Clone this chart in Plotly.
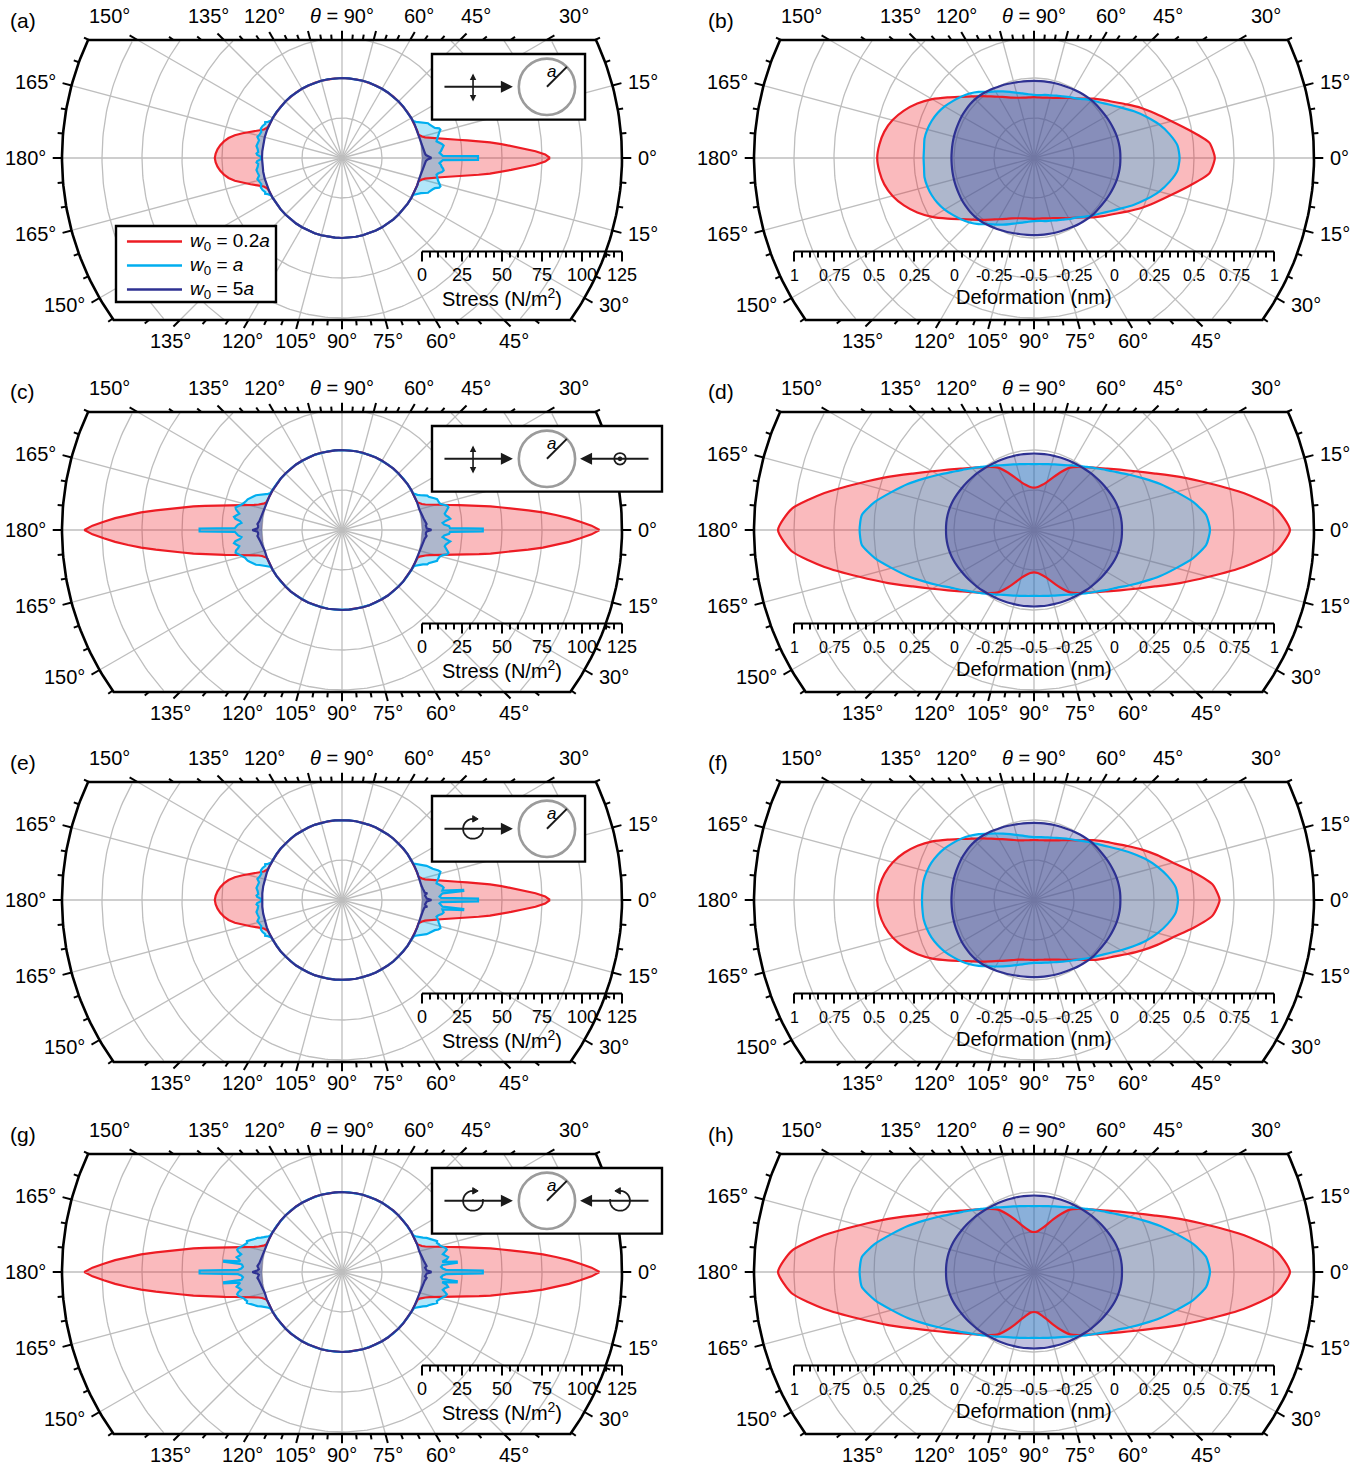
import numpy as np
import plotly.graph_objects as go

# ---------------------------------------------------------------- geometry
W, H = 1365, 1468
PX = 1.6                      # pixels per radial unit
R0 = 50.0                     # particle surface (stress 0 / deformation 0 nm)
R_FRAME = 175.0               # outer frame radius
BAND_TOP = 118 / PX           # flat top edge of the frame
BAND_BOT = -162 / PX          # flat bottom edge of the frame

COL_CX = [342, 1034]
COL_EXT = [(0, 683), (683, 1365)]
ROW_CY = [158, 530, 900, 1272]
ROW_EXT = [(0, 366), (366, 737), (737, 1108), (1108, 1468)]

RED, CYAN, NAVY = '#ED1C24', '#00AEEF', '#2E3192'
FILLS = {RED: 'rgba(237,28,36,0.30)', CYAN: 'rgba(0,174,239,0.30)', NAVY: 'rgba(46,49,146,0.30)'}
GRID = '#BEBEBE'
FONT = 'Liberation Sans, Arial, Helvetica, sans-serif'

# ---------------------------------------------------------------- stress data (N/m^2) vs polar angle (deg)
A_RED_T = list(range(0, 18)) + list(range(20, 155, 5)) + list(range(156, 181, 2))
A_RED_S = ([80, 77, 71, 63, 56, 50, 43, 36, 29, 23, 17.5, 13, 9, 6, 3.5, 1.8, 0.7, 0]
           + [0] * 27
           + [0, 0.5, 2, 5.5, 9.5, 14, 18.5, 22, 24.5, 26.5, 28, 29, 29.5])

A_CYAN_T = [0, 0.8, 1.2] + list(range(2, 29)) + list(range(30, 151, 5)) + \
    [152, 154, 155, 156, 158, 160, 162, 164, 166, 168, 170, 172, 174, 176, 177, 178, 179, 180]
A_CYAN_S = ([35, 35, 13]
            + [12, 11, 12, 12.5, 13.5, 14, 13, 11, 10, 10.5, 11, 11.5, 12, 13, 14, 13.5, 11, 10, 9,
               8.5, 8, 6, 4, 3, 1.5, 0.5, 0]
            + [0] * 25
            + [0, 1.5, 3, 2.5, 3.5, 4, 3, 3.5, 4.5, 3, 3.5, 4, 3, 2.5, 3.5, 3, 1, 0.5])

A_NAVY_T = [0, 0.5, 1, 2, 3, 4, 5, 6, 8, 10, 12, 15] + list(range(20, 181, 5))
A_NAVY_S = [6, 5, 3.5, 2.5, 2, 1.8, 1.5, 1.2, 0.8, 0.5, 0.3, 0] + [0] * 33

C_RED_T = list(range(0, 22)) + list(range(25, 160, 5)) + list(range(159, 181))
C_RED_S = ([111, 106, 99, 92, 84, 76, 67, 59, 51, 44, 37, 31, 25, 19.5, 14.5, 10.5, 7, 4.5, 2.5,
            1.2, 0.4, 0]
           + [0] * 27
           + [0, 0.4, 1.2, 2.5, 4.5, 7, 10.5, 14.5, 19.5, 25, 31, 37, 44, 51, 59, 67, 76, 84, 92,
              99, 106, 111])

C_CYAN_T = [0, 0.6, 1.0] + list(range(2, 29)) + list(range(30, 151, 5)) + \
    list(range(152, 179)) + [179, 179.4, 180]
C_CYAN_S = ([38, 38, 17.5]
            + [17, 14, 13, 15, 18, 17, 15.5, 15, 16, 17, 18, 17.5, 15, 13.5, 13, 12.5, 12.5, 11, 9.5,
               8, 7.5, 5, 3.5, 2, 1, 0.3, 0]
            + [0] * 25
            + [0, 0.5, 1.5, 3, 4.5, 6, 8, 9, 10, 11, 12, 12.5, 13, 14, 15, 16.5, 18, 17.5, 16, 15,
               16.5, 18, 17, 14, 13, 15, 16]
            + [17, 39, 39])

C_NAVY_T = [0, 0.5, 1, 2, 3, 4, 5, 6, 8, 10, 12, 15] + list(range(20, 161, 5)) + \
    [165, 168, 170, 172, 174, 175, 176, 177, 178, 179, 179.5, 180]
C_NAVY_S = ([6, 5, 3, 2.5, 2.5, 3, 2.5, 2, 1.5, 1, 0.5, 0]
            + [0] * 29
            + [0, 0.5, 1, 1.5, 2, 2.5, 3, 2.5, 2.5, 3, 5, 6])

E_RED_T = A_RED_T
E_RED_S = A_RED_S

E_CYAN_T = [0, 0.6, 1.2, 2, 3, 3.8, 4.2, 4.8, 5.3] + list(range(6, 29)) + list(range(30, 151, 5)) + \
    [152, 154, 155, 156, 158, 160, 162, 164, 166, 168, 170, 172, 174, 176, 177, 178, 179, 180]
E_CYAN_S = ([35, 35, 12, 11, 12, 13, 26, 26, 13]
            + [13.5, 14, 13, 11, 10, 10.5, 11.5, 12, 12.5, 13.5, 14, 13, 11, 10, 9, 8, 7, 5.5, 4, 2.5,
               1, 0.3, 0]
            + [0] * 25
            + [0, 1.5, 3, 2.5, 3.5, 4, 3, 3.5, 4.5, 3, 3.5, 4, 3, 2.5, 3.5, 3, 1, 0.5])

E_NAVY_T = [0, 0.5, 1, 2, 3, 4, 4.5, 5, 6, 8, 10, 12, 15] + list(range(20, 181, 5))
E_NAVY_S = [6, 4.5, 3, 2.5, 2, 2.5, 3.5, 2, 1.5, 1, 0.5, 0.3, 0] + [0] * 33

G_RED_T = C_RED_T
G_RED_S = C_RED_S

G_CYAN_T = [0, 0.6, 1.2, 2, 3, 4, 4.6, 5.2, 5.8] + list(range(7, 29)) + list(range(30, 151, 5)) + \
    list(range(152, 174)) + [174, 174.5, 175.1, 175.6, 176, 177, 178, 178.8, 179.4, 180]
G_CYAN_S = ([38, 38, 15, 13, 12, 13, 22, 22, 13]
            + [16, 17, 15, 14, 15.5, 17, 16.5, 15, 13.5, 13, 12, 12.5, 11, 9.5, 8, 7, 5, 3.5, 2, 1,
               0.3, 0]
            + [0] * 25
            + [0, 0.3, 1, 2, 3.5, 5, 7, 8, 9.5, 11, 12.5, 12, 13, 13.5, 15, 16.5, 17, 16, 14, 15,
               16.5, 15]
            + [14, 24, 24, 13, 12.5, 12, 13, 15, 39, 39])

G_NAVY_T = C_NAVY_T
G_NAVY_S = [6, 5, 3, 2.5, 2, 3, 2.5, 2, 1.5, 1, 0.5, 0] + [0] * 29 + \
    [0, 0.5, 1, 1.5, 2, 2.5, 3, 2.5, 2, 3, 5, 6]

# ---------------------------------------------------------------- deformation data (nm), every 5 deg
DEF_T = list(range(0, 181, 5))
B_RED = [0.63, 0.60, 0.49, 0.39, 0.31, 0.24, 0.17, 0.11, 0.065, 0.025, -0.015, -0.045, -0.065,
         -0.085, -0.1, -0.11, -0.117, -0.12, -0.12, -0.12, -0.117, -0.11, -0.098, -0.08, -0.058,
         -0.03, 0.005, 0.045, 0.095, 0.16, 0.235, 0.305, 0.365, 0.415, 0.45, 0.47, 0.48]
B_CYAN = [0.41, 0.40, 0.36, 0.31, 0.25, 0.19, 0.13, 0.08, 0.04, 0.01, -0.02, -0.045, -0.06,
          -0.075, -0.085, -0.095, -0.1, -0.105, -0.105, -0.1, -0.09, -0.078, -0.06, -0.04, -0.02,
          0.005, 0.04, 0.07, 0.095, 0.12, 0.145, 0.165, 0.18, 0.19, 0.195, 0.19, 0.19]
B_NAVY = [0.04, 0.04, 0.038, 0.035, 0.03, 0.025, 0.02, 0.015, 0.012, 0.01, 0.005, 0.0, -0.005,
          -0.01, -0.013, -0.015, -0.017, -0.018, -0.018, -0.018, -0.016, -0.013, -0.008, -0.003,
          0.003, 0.01, 0.016, 0.02, 0.022, 0.022, 0.022, 0.02, 0.019, 0.018, 0.017, 0.016, 0.016]

D_RED = [1.10, 1.02, 0.83, 0.63, 0.47, 0.335, 0.234, 0.157, 0.097, 0.05, 0.011, -0.019, -0.05,
         -0.1, -0.15, -0.19, -0.215, -0.23, -0.235, -0.23, -0.215, -0.19, -0.15, -0.1, -0.05,
         -0.019, 0.011, 0.05, 0.097, 0.157, 0.234, 0.335, 0.47, 0.63, 0.83, 1.02, 1.10]
D_CYAN = [0.60, 0.58, 0.51, 0.42, 0.34, 0.26, 0.19, 0.13, 0.085, 0.046, 0.015, -0.012, -0.034,
          -0.052, -0.065, -0.075, -0.082, -0.086, -0.088, -0.086, -0.082, -0.075, -0.065, -0.052,
          -0.034, -0.012, 0.015, 0.046, 0.085, 0.13, 0.19, 0.26, 0.34, 0.42, 0.51, 0.58, 0.59]
D_NAVY = [0.05, 0.05, 0.048, 0.044, 0.038, 0.03, 0.022, 0.015, 0.008, 0.002, -0.004, -0.009,
          -0.013, -0.016, -0.018, -0.02, -0.021, -0.022, -0.022, -0.022, -0.021, -0.02, -0.018,
          -0.016, -0.013, -0.009, -0.004, 0.002, 0.008, 0.015, 0.022, 0.03, 0.038, 0.044, 0.048,
          0.05, 0.05]

F_RED = [0.66, 0.62, 0.51, 0.40, 0.32, 0.245, 0.175, 0.115, 0.07, 0.03, -0.012, -0.045, -0.068,
         -0.088, -0.103, -0.114, -0.121, -0.125, -0.125, -0.125, -0.121, -0.114, -0.1, -0.082,
         -0.06, -0.032, 0.003, 0.043, 0.093, 0.158, 0.233, 0.303, 0.363, 0.413, 0.448, 0.47, 0.48]
F_CYAN = [0.40, 0.39, 0.35, 0.30, 0.245, 0.185, 0.128, 0.078, 0.038, 0.008, -0.02, -0.043, -0.06,
          -0.075, -0.087, -0.096, -0.102, -0.106, -0.107, -0.102, -0.092, -0.079, -0.062, -0.042,
          -0.02, 0.005, 0.038, 0.068, 0.095, 0.12, 0.145, 0.165, 0.182, 0.193, 0.2, 0.2, 0.2]
F_NAVY = B_NAVY

H_RED = [1.10, 1.02, 0.83, 0.63, 0.47, 0.335, 0.234, 0.157, 0.097, 0.05, 0.011, -0.019, -0.05,
         -0.1, -0.15, -0.195, -0.225, -0.245, -0.25, -0.245, -0.225, -0.195, -0.15, -0.1, -0.05,
         -0.019, 0.011, 0.05, 0.097, 0.157, 0.234, 0.335, 0.47, 0.63, 0.83, 1.02, 1.10]
H_CYAN = D_CYAN
H_NAVY = D_NAVY

# ---------------------------------------------------------------- axis annotations
TOP_LABELS = [150, 135, 120, 90, 60, 45, 30]
RIGHT_LABELS = [15, 0, -15, -30]
LEFT_LABELS = [165, 180, -165, -150]
BOTTOM_LABELS = [-135, -120, -105, -90, -75, -60, -45]
STRESS_TICKS = [0, 25, 50, 75, 100, 125]
DEF_TICK_TEXT = ['1', '0.75', '0.5', '0.25', '0', '-0.25', '-0.5', '-0.25', '0', '0.25', '0.5',
                 '0.75', '1']
LEGEND_TEXT = ['<i>w</i><sub>0</sub> = 0.2<i>a</i>', '<i>w</i><sub>0</sub> = <i>a</i>',
               '<i>w</i><sub>0</sub> = 5<i>a</i>']

PANELS = [
    dict(tag='(a)', kind='stress', inset='lin1',
         series=[(A_RED_T, A_RED_S, RED), (A_CYAN_T, A_CYAN_S, CYAN), (A_NAVY_T, A_NAVY_S, NAVY)]),
    dict(tag='(b)', kind='def', series=[(DEF_T, B_RED, RED), (DEF_T, B_CYAN, CYAN), (DEF_T, B_NAVY, NAVY)]),
    dict(tag='(c)', kind='stress', inset='lin2',
         series=[(C_RED_T, C_RED_S, RED), (C_CYAN_T, C_CYAN_S, CYAN), (C_NAVY_T, C_NAVY_S, NAVY)]),
    dict(tag='(d)', kind='def', series=[(DEF_T, D_RED, RED), (DEF_T, D_CYAN, CYAN), (DEF_T, D_NAVY, NAVY)]),
    dict(tag='(e)', kind='stress', inset='circ1',
         series=[(E_RED_T, E_RED_S, RED), (E_CYAN_T, E_CYAN_S, CYAN), (E_NAVY_T, E_NAVY_S, NAVY)]),
    dict(tag='(f)', kind='def', series=[(DEF_T, F_RED, RED), (DEF_T, F_CYAN, CYAN), (DEF_T, F_NAVY, NAVY)]),
    dict(tag='(g)', kind='stress', inset='circ2',
         series=[(G_RED_T, G_RED_S, RED), (G_CYAN_T, G_CYAN_S, CYAN), (G_NAVY_T, G_NAVY_S, NAVY)]),
    dict(tag='(h)', kind='def', series=[(DEF_T, H_RED, RED), (DEF_T, H_CYAN, CYAN), (DEF_T, H_NAVY, NAVY)]),
]


# ---------------------------------------------------------------- helpers
def closed_loop(theta_deg, radius):
    """Upper half (0..180 deg) followed by its mirror image, closed at 0 deg."""
    t = np.radians(np.asarray(theta_deg, float))
    r = np.asarray(radius, float)
    tt = np.concatenate([t, -t[::-1][1:]])
    rr = np.concatenate([r, r[::-1][1:]])
    return rr * np.cos(tt), rr * np.sin(tt)


def frame_hit(th):
    s = np.sin(th)
    r = R_FRAME
    if s > 1e-9:
        r = min(r, BAND_TOP / s)
    elif s < -1e-9:
        r = min(r, BAND_BOT / s)
    return r


def band_clip(x, y):
    x = np.asarray(x, float).astype(object)
    y = np.asarray(y, float).astype(object)
    bad = (y.astype(float) > BAND_TOP) | (y.astype(float) < BAND_BOT)
    x[bad] = None
    y[bad] = None
    return list(x), list(y)


fig = go.Figure()
layout = dict(width=W, height=H, margin=dict(l=0, r=0, t=0, b=0),
              paper_bgcolor='white', plot_bgcolor='rgba(0,0,0,0)', showlegend=False)
annotations = []
shapes = []

a_top = np.arcsin(BAND_TOP / R_FRAME)
a_bot = np.arcsin(-BAND_BOT / R_FRAME)


def text(xr, yr, x, y, s, size=20, xanchor='center', yanchor='middle'):
    annotations.append(dict(xref=xr, yref=yr, x=x, y=y, text=s, showarrow=False,
                            xanchor=xanchor, yanchor=yanchor,
                            font=dict(family=FONT, size=size, color='black')))


def arrow(xr, yr, x0, y0, x1, y1, both=False, size=1.2, width=2):
    annotations.append(dict(xref=xr, yref=yr, axref=xr, ayref=yr, x=x1, y=y1, ax=x0, ay=y0,
                            text='', showarrow=True, arrowhead=2, arrowsize=size,
                            arrowwidth=width, arrowcolor='#1a1a1a', standoff=0, startstandoff=0,
                            arrowside='end+start' if both else 'end', startarrowhead=2,
                            startarrowsize=size))


def circ_pol(xr, yr, xc, yc, pointing_right=True):
    # circular-polarisation glyph: open circle with a small arrowhead on top
    rad = 6.2
    ang = np.radians(np.linspace(70, 70 + 300, 60)) if pointing_right else \
        np.radians(np.linspace(110, 110 - 300, 60))
    px = xc + rad * np.cos(ang)
    py = yc + rad * np.sin(ang)
    path = 'M ' + ' L '.join(f'{a:.3f},{b:.3f}' for a, b in zip(px, py))
    shapes.append(dict(type='path', xref=xr, yref=yr, path=path,
                       line=dict(color='#1a1a1a', width=1.8)))
    d = 1 if pointing_right else -1
    tip = (xc + d * 3.2, yc + rad)
    tri = f'M {tip[0]:.3f},{tip[1]:.3f} L {tip[0] - d * 3.4:.3f},{tip[1] + 2.0:.3f} ' \
          f'L {tip[0] - d * 3.4:.3f},{tip[1] - 2.0:.3f} Z'
    shapes.append(dict(type='path', xref=xr, yref=yr, path=tri, fillcolor='#1a1a1a',
                       line=dict(color='#1a1a1a', width=1)))


for k, p in enumerate(PANELS):
    row, col = divmod(k, 2)
    cx, cy = COL_CX[col], ROW_CY[row]
    x0p, x1p = COL_EXT[col]
    y0p, y1p = ROW_EXT[row]
    xn = 'x' if k == 0 else f'x{k + 1}'
    yn = 'y' if k == 0 else f'y{k + 1}'
    layout['xaxis' if k == 0 else f'xaxis{k + 1}'] = dict(
        domain=[x0p / W, x1p / W], range=[(x0p - cx) / PX, (x1p - cx) / PX],
        visible=False, fixedrange=True, anchor=yn)
    layout['yaxis' if k == 0 else f'yaxis{k + 1}'] = dict(
        domain=[1 - y1p / H, 1 - y0p / H], range=[(cy - y1p) / PX, (cy - y0p) / PX],
        visible=False, fixedrange=True, anchor=xn)
    ins = p.get('inset')
    wide = ins in ('lin2', 'circ2')

    # ---- polar grid: circles every 25 units, spokes every 15 deg
    gx, gy = [], []
    ang = np.linspace(0, 2 * np.pi, 361)
    for rg in [25, 50, 75, 100, 125, 150]:
        cxs, cys = band_clip(rg * np.cos(ang), rg * np.sin(ang))
        gx += cxs + [None]
        gy += cys + [None]
    for deg in range(0, 360, 15):
        th = np.radians(deg)
        rh = frame_hit(th)
        gx += [0, rh * np.cos(th), None]
        gy += [0, rh * np.sin(th), None]
    fig.add_trace(go.Scatter(x=gx, y=gy, mode='lines', line=dict(color=GRID, width=1.3),
                             hoverinfo='skip', xaxis=xn, yaxis=yn))

    # ---- data: fills first, then outlines
    curves = []
    for th, val, colr in p['series']:
        if p['kind'] == 'stress':
            rad = R0 + np.asarray(val, float)
            ox, oy = closed_loop(th, rad)
            ix, iy = closed_loop(th, np.full(len(th), R0))
            fx = np.concatenate([ox, ix[::-1]])
            fy = np.concatenate([oy, iy[::-1]])
            shape = 'linear'
        else:
            rad = R0 + 100.0 * np.asarray(val, float)
            ox, oy = closed_loop(th, rad)
            fx, fy = ox, oy
            shape = 'spline'
        fig.add_trace(go.Scatter(x=fx, y=fy, mode='lines', fill='toself',
                                 fillcolor=FILLS[colr], line=dict(width=0, shape=shape),
                                 hoverinfo='skip', xaxis=xn, yaxis=yn))
        curves.append((ox, oy, colr, shape))
    for ox, oy, colr, shape in curves:
        fig.add_trace(go.Scatter(x=ox, y=oy, mode='lines',
                                 line=dict(color=colr, width=2.2, shape=shape, smoothing=0.6),
                                 hoverinfo='skip', xaxis=xn, yaxis=yn))

    # ---- frame outline
    fx = [-R_FRAME * np.cos(a_top), R_FRAME * np.cos(a_top)]
    fy = [BAND_TOP, BAND_TOP]
    arc = np.linspace(a_top, -a_bot, 60)
    fx += list(R_FRAME * np.cos(arc))
    fy += list(R_FRAME * np.sin(arc))
    arc = np.linspace(np.pi + a_bot, np.pi - a_top, 60)
    fx += list(R_FRAME * np.cos(arc))
    fy += list(R_FRAME * np.sin(arc))
    fig.add_trace(go.Scatter(x=fx + [fx[0]], y=fy + [fy[0]], mode='lines',
                             line=dict(color='black', width=2.6), hoverinfo='skip',
                             xaxis=xn, yaxis=yn))

    # ---- frame ticks every 5 deg, longer every 15 deg
    tx, ty = [], []
    for deg in range(-180, 180, 5):
        th = np.radians(deg)
        rh = frame_hit(th)
        ln = 5.8 if deg % 15 == 0 else 3.4
        tx += [rh * np.cos(th), (rh + ln) * np.cos(th), None]
        ty += [rh * np.sin(th), (rh + ln) * np.sin(th), None]
    fig.add_trace(go.Scatter(x=tx, y=ty, mode='lines', line=dict(color='black', width=2),
                             hoverinfo='skip', xaxis=xn, yaxis=yn))

    # ---- angle labels
    for deg in TOP_LABELS:
        th = np.radians(deg)
        lab = '<i>θ</i> = 90°' if deg == 90 else f'{deg}°'
        text(xn, yn, (134 / PX) / np.tan(th), 142 / PX, lab)
    for deg in BOTTOM_LABELS:
        th = np.radians(deg)
        text(xn, yn, (-172 / PX) / np.tan(th), -183 / PX, f'{abs(deg)}°')
    for deg in RIGHT_LABELS:
        if wide and deg == 15:
            continue          # hidden behind the wide schematic box
        th = np.radians(deg)
        rl = 294 / PX
        text(xn, yn, rl * np.cos(th), rl * np.sin(th), f'{abs(deg)}°', xanchor='left')
    for deg in LEFT_LABELS:
        th = np.radians(deg)
        rl = 294 / PX
        text(xn, yn, rl * np.cos(th), rl * np.sin(th), f'{abs(deg)}°', xanchor='right')

    # panel tag
    text(xn, yn, ((8 if col == 0 else 706) - cx) / PX, 138 / PX, p['tag'], size=21, xanchor='left')

    # ---- radial scale bar
    sb_y = -93.5 / PX
    bx, by = [], []
    if p['kind'] == 'stress':
        pos = [R0 + s for s in range(0, 126, 5)]
        major = [s % 25 == 0 for s in range(0, 126, 5)]
        x_lo, x_hi = R0, R_FRAME
    else:
        pos = list(range(-150, 151, 5))
        major = [q % 25 == 0 for q in pos]
        x_lo, x_hi = -150, 150
    bx += [x_lo, x_hi, None]
    by += [sb_y, sb_y, None]
    for xp, mj in zip(pos, major):
        bx += [xp, xp, None]
        by += [sb_y, sb_y - (10 if mj else 6) / PX, None]
    fig.add_trace(go.Scatter(x=bx, y=by, mode='lines', line=dict(color='black', width=2),
                             hoverinfo='skip', xaxis=xn, yaxis=yn))
    if p['kind'] == 'stress':
        for s in STRESS_TICKS:
            text(xn, yn, R0 + s, -117 / PX, str(s), size=18)
        text(xn, yn, 100, -139 / PX, 'Stress (N/m<sup>2</sup>)', size=20)
    else:
        for q, lab in zip(range(-150, 151, 25), DEF_TICK_TEXT):
            text(xn, yn, q, -117 / PX, lab, size=16)
        text(xn, yn, 0, -139 / PX, 'Deformation (nm)', size=20)

    # ---- legend (panel a only)
    if k == 0:
        shapes.append(dict(type='rect', xref=xn, yref=yn, x0=-141.25, x1=-41.25, y0=-90, y1=-42.5,
                           line=dict(color='black', width=2.4), fillcolor='white', layer='above'))
        for i, (colr, lab) in enumerate(zip([RED, CYAN, NAVY], LEGEND_TEXT)):
            yy = -52.2 - 15 * i
            shapes.append(dict(type='line', xref=xn, yref=yn, x0=-134.4, x1=-100, y0=yy, y1=yy,
                               line=dict(color=colr, width=2.4)))
            text(xn, yn, -96.25, yy, lab, size=19, xanchor='left')

    # ---- beam schematic inset
    if ins:
        bx0, bx1 = 56.25, (200.0 if wide else 151.9)
        by0, by1 = 24.0, 65.0
        yc = 0.5 * (by0 + by1)
        shapes.append(dict(type='rect', xref=xn, yref=yn, x0=bx0, x1=bx1, y0=by0, y1=by1,
                           line=dict(color='black', width=2.4), fillcolor='white', layer='above'))
        pcx, prad = 128.1, 17.6
        shapes.append(dict(type='circle', xref=xn, yref=yn, x0=pcx - prad, x1=pcx + prad,
                           y0=yc - prad, y1=yc + prad, line=dict(color='#9B9B9B', width=2.6)))
        shapes.append(dict(type='line', xref=xn, yref=yn, x0=pcx, y0=yc,
                           x1=pcx + prad * np.cos(np.pi / 4), y1=yc + prad * np.sin(np.pi / 4),
                           line=dict(color='#1a1a1a', width=2)))
        text(xn, yn, pcx + 3.0, yc + 9.6, '<i>a</i>', size=17)
        arrow(xn, yn, 63.1, yc, 106.8, yc)
        if ins.startswith('lin'):
            arrow(xn, yn, 81.9, yc + 9.2, 81.9, yc - 9.2, both=True, size=0.8, width=1.6)
        else:
            circ_pol(xn, yn, 81.9, yc, pointing_right=True)
        if wide:
            arrow(xn, yn, 192.5, yc, 148.8, yc)
            if ins == 'lin2':
                shapes.append(dict(type='circle', xref=xn, yref=yn, x0=173.75 - 3.6, x1=173.75 + 3.6,
                                   y0=yc - 3.6, y1=yc + 3.6, fillcolor='white',
                                   line=dict(color='#1a1a1a', width=1.8)))
                shapes.append(dict(type='circle', xref=xn, yref=yn, x0=173.75 - 1.2, x1=173.75 + 1.2,
                                   y0=yc - 1.2, y1=yc + 1.2, fillcolor='#1a1a1a',
                                   line=dict(color='#1a1a1a', width=1)))
            else:
                circ_pol(xn, yn, 173.75, yc, pointing_right=False)

layout['annotations'] = annotations
layout['shapes'] = shapes
fig.update_layout(**layout)
fig.write_html('out.html')
